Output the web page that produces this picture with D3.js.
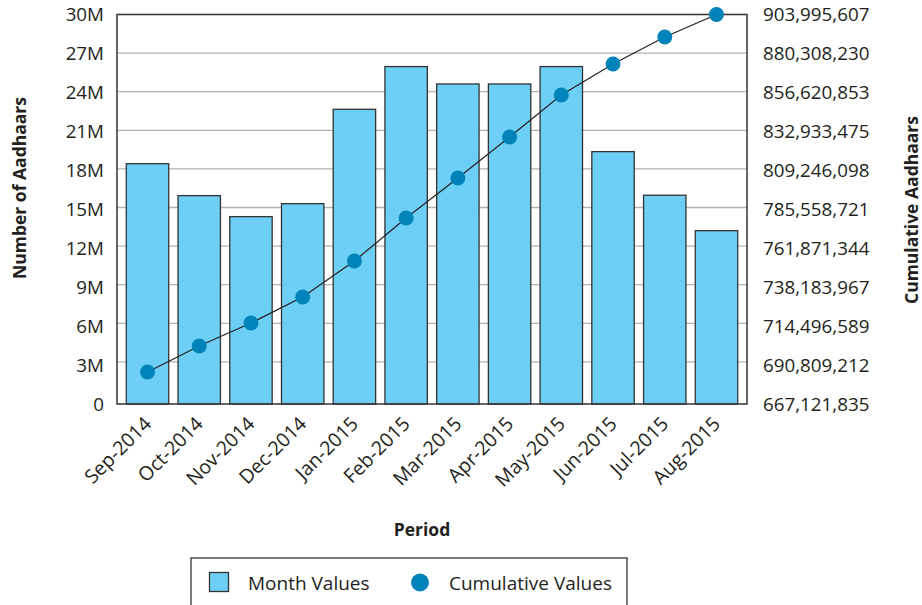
<!DOCTYPE html>
<html>
<head>
<meta charset="utf-8">
<script src="https://cdn.jsdelivr.net/npm/d3@7"></script>
<style>
  html, body { margin: 0; padding: 0; background: #fff; }
  svg text { font-family: "Open Sans", sans-serif; fill: #231f20; }
</style>
</head>
<body>
<svg id="chart" width="922" height="605"></svg>
<script>
// ---- data ----
const periods = ["Sep-2014","Oct-2014","Nov-2014","Dec-2014","Jan-2015","Feb-2015",
                 "Mar-2015","Apr-2015","May-2015","Jun-2015","Jul-2015","Aug-2015"];
const monthValues = [18510000, 16050000, 14430000, 15430000, 22700000, 25990000,
                     24650000, 24650000, 25990000, 19440000, 16080000, 13350000];
const cumulativeValues = [686580000, 702390000, 716380000, 732190000, 754080000, 780230000,
                          804560000, 829490000, 855040000, 873890000, 890310000, 903995607];
const leftTickValues = [0, 3e6, 6e6, 9e6, 12e6, 15e6, 18e6, 21e6, 24e6, 27e6, 30e6];
const leftTickLabels = ["0","3M","6M","9M","12M","15M","18M","21M","24M","27M","30M"];
const rightTickValues = [667121835, 690809212, 714496589, 738183967, 761871344, 785558721,
                         809246098, 832933475, 856620853, 880308230, 903995607];
const rightTickLabels = ["667,121,835","690,809,212","714,496,589","738,183,967","761,871,344",
                         "785,558,721","809,246,098","832,933,475","856,620,853","880,308,230","903,995,607"];

// ---- layout ----
const svg = d3.select("#chart");
const L = 117, R = 747, T = 14.5, B = 404;

const x = d3.scaleBand().domain(periods).range([L, R]).paddingInner(0.18).paddingOuter(0.18);
const y = d3.scaleLinear().domain([0, 30e6]).range([B, T]);
const yGrid = d3.scaleLinear().domain([0, 30e6]).range([400.5, T]);
const y2 = d3.scaleLinear().domain([rightTickValues[0], rightTickValues[rightTickValues.length-1]]).range([B, T]);

// gridlines
svg.append("g").selectAll("line")
  .data(leftTickValues.slice(1, -1))
  .join("line")
  .attr("x1", L).attr("x2", R)
  .attr("y1", d => yGrid(d)).attr("y2", d => yGrid(d))
  .attr("stroke", "#b3b3b3").attr("stroke-width", 1.3);

// bars
svg.append("g").selectAll("rect")
  .data(periods)
  .join("rect")
  .attr("x", d => x(d))
  .attr("width", x.bandwidth())
  .attr("y", (d, i) => y(monthValues[i]))
  .attr("height", (d, i) => B - y(monthValues[i]))
  .attr("fill", "#6dcff6")
  .attr("stroke", "#333")
  .attr("stroke-width", 1.3);

// plot border
svg.append("rect")
  .attr("x", L).attr("y", T).attr("width", R - L).attr("height", B - T)
  .attr("fill", "none").attr("stroke", "#333").attr("stroke-width", 1.5);

// cumulative line
const line = d3.line()
  .x((d, i) => x(periods[i]) + x.bandwidth() / 2)
  .y(d => y2(d));
svg.append("path")
  .datum(cumulativeValues)
  .attr("d", line)
  .attr("fill", "none")
  .attr("stroke", "#231f20")
  .attr("stroke-width", 1.2);

svg.append("g").selectAll("circle")
  .data(cumulativeValues)
  .join("circle")
  .attr("cx", (d, i) => x(periods[i]) + x.bandwidth() / 2)
  .attr("cy", d => y2(d))
  .attr("r", 7.5)
  .attr("fill", "#0083b9");

// left axis
const leftAxis = d3.axisLeft(y).tickValues(leftTickValues)
  .tickFormat((d, i) => leftTickLabels[i]).tickSize(0).tickPadding(13);
const gl = svg.append("g").attr("transform", `translate(${L},0)`).call(leftAxis);
gl.select(".domain").remove();
gl.selectAll("text").attr("font-size", 18.8).attr("font-family", "Open Sans").attr("fill", "#231f20");

// right axis
const rightAxis = d3.axisRight(y2).tickValues(rightTickValues)
  .tickFormat((d, i) => rightTickLabels[i]).tickSize(0).tickPadding(16);
const gr = svg.append("g").attr("transform", `translate(${R},0)`).call(rightAxis);
gr.select(".domain").remove();
gr.selectAll("text").attr("font-size", 18.8).attr("font-family", "Open Sans").attr("fill", "#231f20");

// x axis labels
const xAxis = d3.axisBottom(x).tickSize(0).tickPadding(0);
const gx = svg.append("g").attr("transform", `translate(0,${B})`).call(xAxis);
gx.select(".domain").remove();
gx.selectAll("text")
  .attr("font-size", 19.5).attr("font-family", "Open Sans").attr("fill", "#231f20")
  .attr("text-anchor", "end")
  .attr("dy", null)
  .attr("transform", "translate(5,21) rotate(-45)");

// axis titles
svg.append("text")
  .attr("transform", "translate(26,188) rotate(-90)")
  .attr("text-anchor", "middle")
  .attr("font-size", 17.5).attr("font-weight", "bold")
  .text("Number of Aadhaars");
svg.append("text")
  .attr("transform", "translate(918,210) rotate(-90)")
  .attr("text-anchor", "middle")
  .attr("font-size", 17.5).attr("font-weight", "bold")
  .text("Cumulative Aadhaars");
svg.append("text")
  .attr("x", 422).attr("y", 536)
  .attr("text-anchor", "middle")
  .attr("font-size", 17.5).attr("font-weight", "bold")
  .text("Period");

// legend
const lg = svg.append("g");
lg.append("rect").attr("x", 191).attr("y", 558).attr("width", 436).attr("height", 60)
  .attr("fill", "#fff").attr("stroke", "#333").attr("stroke-width", 1.3);
lg.append("rect").attr("x", 209.5).attr("y", 572.5).attr("width", 19).attr("height", 19)
  .attr("fill", "#6dcff6").attr("stroke", "#333").attr("stroke-width", 1.3);
lg.append("text").attr("x", 248).attr("y", 583).attr("dy", "0.35em")
  .attr("font-size", 19).text("Month Values");
lg.append("circle").attr("cx", 420).attr("cy", 582.5).attr("r", 9).attr("fill", "#0083b9");
lg.append("text").attr("x", 449).attr("y", 583).attr("dy", "0.35em")
  .attr("font-size", 19).text("Cumulative Values");
</script>
</body>
</html>
